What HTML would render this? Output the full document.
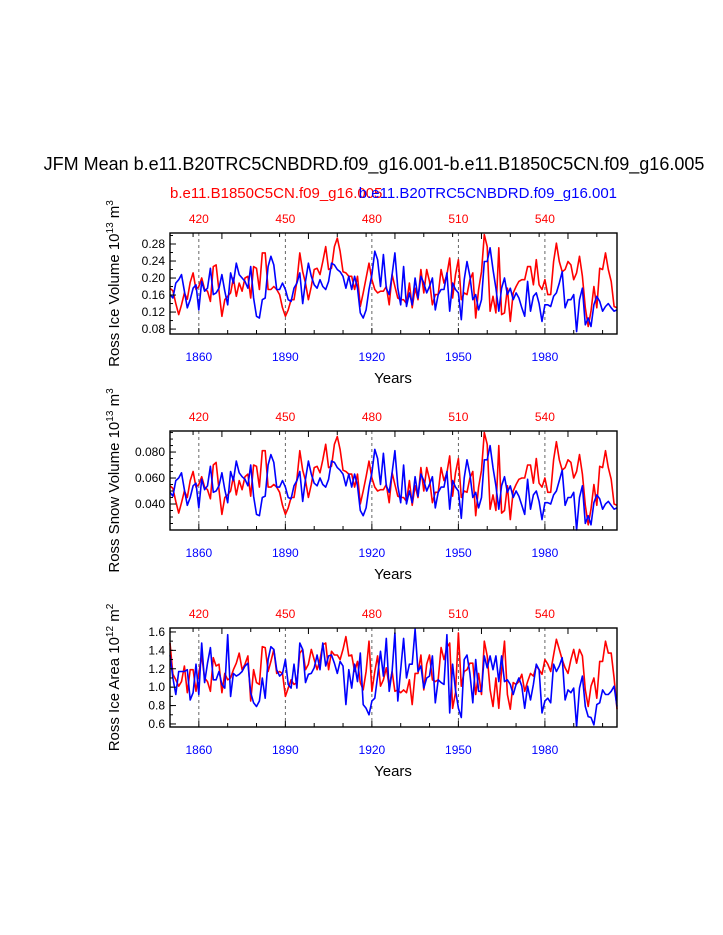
<!DOCTYPE html>
<html><head><meta charset="utf-8">
<style>
html,body{margin:0;padding:0;background:#fff;}
svg{display:block;font-family:"Liberation Sans",Arial,sans-serif;}
</style></head>
<body>
<svg id="chart" width="723" height="935" viewBox="0 0 723 935" xmlns="http://www.w3.org/2000/svg">
<text x="374" y="170" font-size="18" text-anchor="middle">JFM Mean b.e11.B20TRC5CNBDRD.f09_g16.001-b.e11.B1850C5CN.f09_g16.005</text>
<text x="170" y="198" font-size="15" fill="#ff0000">b.e11.B1850C5CN.f09_g16.005</text>
<text x="617" y="198" font-size="15" fill="#0000ff" text-anchor="end">b.e11.B20TRC5CNBDRD.f09_g16.001</text>
</svg>
<script>
const years0 = 1850;
const bottomTickYears = [1860,1890,1920,1950,1980];
const topTickLabels = ["420","450","480","510","540"];
const p1Red = [0.176,0.17,0.14,0.114,0.137,0.165,0.15,0.19,0.212,0.173,0.18,0.2,0.173,0.169,0.145,0.227,0.231,0.169,0.11,0.149,0.157,0.165,0.2,0.157,0.188,0.169,0.2,0.204,0.153,0.227,0.223,0.173,0.259,0.259,0.173,0.173,0.18,0.173,0.161,0.13,0.11,0.125,0.149,0.149,0.192,0.259,0.215,0.188,0.149,0.18,0.22,0.223,0.208,0.239,0.274,0.22,0.223,0.274,0.294,0.263,0.215,0.212,0.204,0.204,0.173,0.204,0.133,0.165,0.2,0.235,0.196,0.173,0.165,0.169,0.169,0.18,0.137,0.208,
0.18,0.153,0.149,0.149,0.14,0.188,0.13,0.176,0.149,0.22,0.165,0.22,0.192,0.137,0.161,0.161,0.22,0.188,0.208,0.247,0.153,0.208,0.243,0.149,0.165,0.161,0.196,0.212,0.106,0.173,0.215,0.302,0.274,0.122,0.157,0.118,0.271,0.114,0.118,0.176,0.098,0.165,0.18,0.192,0.196,0.196,0.227,0.227,0.184,0.243,0.184,0.173,0.196,0.161,0.161,0.239,0.282,0.239,0.215,0.22,0.239,0.231,0.196,0.212,0.251,0.204,0.13,0.086,0.122,0.18,0.13,0.223,0.22,0.259,0.22,0.192,0.133,0.13];
const p1Blue = [0.161,0.153,0.188,0.196,0.208,0.169,0.13,0.149,0.176,0.184,0.125,0.192,0.169,0.176,0.223,0.161,0.165,0.176,0.208,0.169,0.137,0.212,0.188,0.235,0.208,0.2,0.192,0.176,0.227,0.153,0.11,0.106,0.149,0.153,0.227,0.251,0.231,0.173,0.173,0.188,0.173,0.149,0.145,0.176,0.188,0.212,0.14,0.192,0.235,0.204,0.184,0.176,0.196,0.18,0.173,0.192,0.235,0.231,0.22,0.215,0.204,0.176,0.204,0.173,0.204,0.176,0.118,0.106,0.125,0.173,0.208,0.263,0.243,0.18,0.255,0.176,0.161,0.208,
0.259,0.176,0.137,0.227,0.133,0.165,0.137,0.2,0.153,0.204,0.188,0.165,0.18,0.2,0.125,0.161,0.173,0.173,0.212,0.122,0.188,0.173,0.165,0.102,0.196,0.239,0.204,0.149,0.161,0.125,0.149,0.239,0.239,0.271,0.22,0.176,0.122,0.176,0.2,0.161,0.176,0.149,0.165,0.153,0.13,0.11,0.192,0.122,0.157,0.165,0.14,0.098,0.137,0.137,0.133,0.157,0.165,0.188,0.215,0.13,0.149,0.149,0.161,0.074,0.149,0.176,0.09,0.106,0.086,0.137,0.157,0.145,0.122,0.133,0.14,0.13,0.122,0.125];
const p2Red = [0.054,0.052,0.042,0.033,0.041,0.050,0.045,0.058,0.065,0.053,0.055,0.061,0.053,0.051,0.044,0.070,0.072,0.051,0.032,0.045,0.047,0.050,0.061,0.047,0.058,0.051,0.061,0.063,0.046,0.070,0.069,0.053,0.081,0.081,0.053,0.053,0.055,0.053,0.049,0.039,0.032,0.037,0.045,0.045,0.059,0.081,0.066,0.058,0.045,0.055,0.068,0.069,0.064,0.074,0.086,0.068,0.069,0.086,0.092,0.082,0.066,0.065,0.063,0.063,0.053,0.063,0.040,0.050,0.061,0.073,0.060,0.053,0.050,0.051,0.051,0.055,0.041,0.064,
0.055,0.046,0.045,0.045,0.042,0.058,0.039,0.054,0.045,0.068,0.050,0.068,0.059,0.041,0.049,0.049,0.068,0.058,0.064,0.077,0.046,0.064,0.075,0.045,0.050,0.049,0.060,0.065,0.031,0.053,0.066,0.095,0.086,0.036,0.047,0.035,0.085,0.033,0.035,0.054,0.028,0.050,0.055,0.059,0.060,0.060,0.070,0.070,0.056,0.075,0.056,0.053,0.060,0.049,0.049,0.074,0.088,0.074,0.066,0.068,0.074,0.072,0.060,0.065,0.078,0.063,0.039,0.024,0.036,0.055,0.039,0.069,0.068,0.081,0.068,0.059,0.040,0.039];
const p2Blue = [0.049,0.046,0.058,0.060,0.064,0.051,0.039,0.045,0.054,0.056,0.037,0.059,0.051,0.054,0.069,0.049,0.050,0.054,0.064,0.051,0.041,0.065,0.058,0.073,0.064,0.061,0.059,0.054,0.070,0.046,0.032,0.031,0.045,0.046,0.070,0.078,0.072,0.053,0.053,0.058,0.053,0.045,0.044,0.054,0.058,0.065,0.042,0.059,0.073,0.063,0.056,0.054,0.060,0.055,0.053,0.059,0.073,0.072,0.068,0.066,0.063,0.054,0.063,0.053,0.063,0.054,0.035,0.031,0.037,0.053,0.064,0.082,0.075,0.055,0.079,0.054,0.049,0.064,
0.081,0.054,0.041,0.070,0.040,0.050,0.041,0.061,0.046,0.063,0.058,0.050,0.055,0.061,0.037,0.049,0.053,0.053,0.065,0.036,0.058,0.053,0.050,0.029,0.060,0.074,0.063,0.045,0.049,0.037,0.045,0.074,0.074,0.085,0.068,0.054,0.036,0.054,0.061,0.049,0.054,0.045,0.050,0.046,0.039,0.032,0.059,0.036,0.047,0.050,0.042,0.028,0.041,0.041,0.040,0.047,0.050,0.058,0.066,0.039,0.045,0.045,0.049,0.020,0.045,0.054,0.025,0.031,0.024,0.041,0.047,0.044,0.036,0.040,0.042,0.039,0.036,0.037];
const p3Red = [1.48,1.14,1.08,1.01,1.06,1.23,0.94,1.19,1.19,0.955,1.15,1.34,1.10,1.06,0.955,1.32,1.23,1.25,0.94,1.15,1.08,1.10,1.19,1.26,1.37,1.19,1.25,1.34,0.85,1.19,1.05,1.03,1.44,1.43,1.17,1.28,1.41,1.15,1.17,1.15,0.90,0.99,1.08,1.03,1.05,1.37,1.41,1.19,1.25,1.41,1.30,1.19,1.30,1.46,1.48,1.19,1.39,1.35,1.35,1.30,1.41,1.55,1.34,1.35,1.17,1.28,1.05,0.97,1.17,1.50,0.955,1.17,1.34,1.01,1.08,1.21,1.01,1.17,
0.955,0.97,0.94,0.97,0.94,1.08,0.81,1.15,1.15,1.35,0.97,1.25,1.35,1.08,1.06,1.08,1.43,1.30,1.43,1.48,0.77,0.94,1.59,1.01,1.17,1.19,1.26,1.26,0.92,1.15,0.92,1.50,1.34,0.97,0.79,1.10,0.77,1.19,1.50,0.92,0.76,1.05,1.03,1.06,1.14,0.955,1.06,1.15,1.12,1.23,1.19,1.14,1.30,1.25,1.17,1.35,1.52,1.41,1.30,1.21,1.15,1.30,1.41,1.26,1.41,1.34,0.97,0.79,1.01,1.10,0.88,1.28,1.28,1.50,1.37,1.37,1.10,0.76];
const p3Blue = [1.35,1.10,0.92,1.17,1.17,1.17,1.19,0.86,0.94,1.25,0.92,1.48,1.05,1.26,1.43,1.08,1.08,1.17,1.03,0.99,1.57,0.90,1.15,1.12,1.14,1.17,1.23,1.26,0.94,0.83,0.79,0.85,1.10,0.88,1.30,1.44,1.41,1.19,1.12,1.15,1.30,1.03,0.99,1.25,0.99,1.48,1.41,1.05,1.14,1.15,1.21,1.35,1.19,1.48,1.23,1.34,1.35,1.26,1.15,1.28,1.23,0.81,1.19,0.99,1.25,1.06,1.37,0.81,0.77,0.70,0.85,0.88,1.12,1.39,1.12,1.53,0.955,1.17,
1.59,0.85,1.19,1.53,1.10,1.25,1.25,1.63,1.17,1.23,0.99,1.10,1.12,1.34,0.83,1.08,1.05,1.03,1.57,0.72,1.25,0.97,0.77,0.67,1.30,1.35,1.15,0.83,1.30,0.955,0.955,1.34,1.21,1.34,1.19,1.34,1.06,1.34,1.06,1.08,1.03,0.92,1.03,1.10,1.01,0.77,1.01,0.86,1.03,1.25,1.19,0.72,0.85,0.88,0.83,1.25,1.17,1.23,1.32,0.86,0.97,0.94,0.99,0.57,0.99,1.12,0.79,0.68,0.67,0.59,0.81,0.83,0.97,0.92,0.92,0.955,1.01,0.79];
const p1Ticks = ["0.08","0.12","0.16","0.20","0.24","0.28"];
const p2Ticks = ["0.040","0.060","0.080"];
const p3Ticks = ["0.6","0.8","1.0","1.2","1.4","1.6"];

const NS="http://www.w3.org/2000/svg";
const svg=document.getElementById('chart');
const X0=170,X1=617,YR0=1850,YR1=2005;
function xs(yr){return X0+(yr-YR0)*(X1-X0)/(YR1-YR0);}
function mk(tag,attrs,parent){const e=document.createElementNS(NS,tag);for(const k in attrs)e.setAttribute(k,attrs[k]);(parent||svg).appendChild(e);return e;}

const panels=[
 {name:'ice-volume',top:233,bot:334,vmin:0.0684,vmax:0.3059,red:p1Red,blue:p1Blue,ticks:p1Ticks,minor:0.02,t1:'Ross Ice Volume 10',sup1:'13',t2:' m',sup2:'3'},
 {name:'snow-volume',top:431,bot:530,vmin:0.0200,vmax:0.0962,red:p2Red,blue:p2Blue,ticks:p2Ticks,minor:0.005,t1:'Ross Snow Volume 10',sup1:'13',t2:' m',sup2:'3'},
 {name:'ice-area',top:628,bot:727,vmin:0.567,vmax:1.643,red:p3Red,blue:p3Blue,ticks:p3Ticks,minor:0.1,t1:'Ross Ice Area 10',sup1:'12',t2:' m',sup2:'2'}
];

panels.forEach(p=>{
 const g=mk('g',{});
 
 
 const ys=v=>p.bot-(v-p.vmin)*(p.bot-p.top)/(p.vmax-p.vmin);
 bottomTickYears.forEach(yr=>{
  const l=mk('line',{x1:xs(yr),x2:xs(yr),y1:p.top,y2:p.bot,stroke:'#555','stroke-width':0.9,'stroke-dasharray':'3,3'},g);
  
  
 });
 [['red','#ff0000'],['blue','#0000ff']].forEach(([k,c])=>{
  const arr=p[k];
  const pts=arr.map((v,i)=>xs(years0+i).toFixed(1)+','+ys(v).toFixed(1)).join(' ');
  const pl=mk('polyline',{points:pts,fill:'none',stroke:c,'stroke-width':1.6,'stroke-linejoin':'round'},g);
  
  
 });
 const fr=mk('rect',{x:X0,y:p.top,width:X1-X0,height:p.bot-p.top,fill:'none',stroke:'#000','stroke-width':1.4},g);
 
 
 for(let yr=1860;yr<=2000;yr+=10){
  const major=(yr-1860)%30===0;
  mk('line',{x1:xs(yr),x2:xs(yr),y1:p.bot,y2:p.bot-(major?6:4),stroke:'#000','stroke-width':1},g);
 }
 for(let yr=1858;yr<=2000;yr+=10){
  const major=(yr-1868)%30===0;
  mk('line',{x1:xs(yr),x2:xs(yr),y1:p.top,y2:p.top+(major?6:4),stroke:'#000','stroke-width':1},g);
 }
 bottomTickYears.forEach(yr=>{
  const t=mk('text',{x:xs(yr),y:p.bot+27,'font-size':12,fill:'#0000ff','text-anchor':'middle'},g);
  t.textContent=yr;
  
  
 });
 topTickLabels.forEach((lab,i)=>{
  const t=mk('text',{x:xs(bottomTickYears[i]),y:p.top-10,'font-size':12,fill:'#ff0000','text-anchor':'middle'},g);
  t.textContent=lab;
  
  
 });
 for(let v=Math.ceil(p.vmin/p.minor)*p.minor;v<=p.vmax+1e-9;v+=p.minor){
  mk('line',{x1:X0,x2:X0+3,y1:ys(v),y2:ys(v),stroke:'#000','stroke-width':1},g);
 }
 p.ticks.forEach(lab=>{
  const v=parseFloat(lab);
  mk('line',{x1:X0,x2:X0+6,y1:ys(v),y2:ys(v),stroke:'#000','stroke-width':1},g);
  const t=mk('text',{x:X0-5,y:ys(v)+4,'font-size':12,'text-anchor':'end'},g);
  t.textContent=lab;
  
  
 });
 const xt=mk('text',{x:393,y:p.bot+49,'font-size':15,'text-anchor':'middle'},g);
 xt.textContent='Years';
 
 
 const cy=(p.top+p.bot)/2;
 const yt=mk('text',{x:0,y:0,'font-size':15,'text-anchor':'middle',transform:'translate(119,'+cy+') rotate(-90)'},g);
 
 
 const s1=mk('tspan',{},yt);s1.textContent=p.t1;
 const s2=mk('tspan',{dy:-6,'font-size':10},yt);s2.textContent=p.sup1;
 const s3=mk('tspan',{dy:6},yt);s3.textContent=p.t2;
 const s4=mk('tspan',{dy:-6,'font-size':10},yt);s4.textContent=p.sup2;
});
</script>
</body></html>
